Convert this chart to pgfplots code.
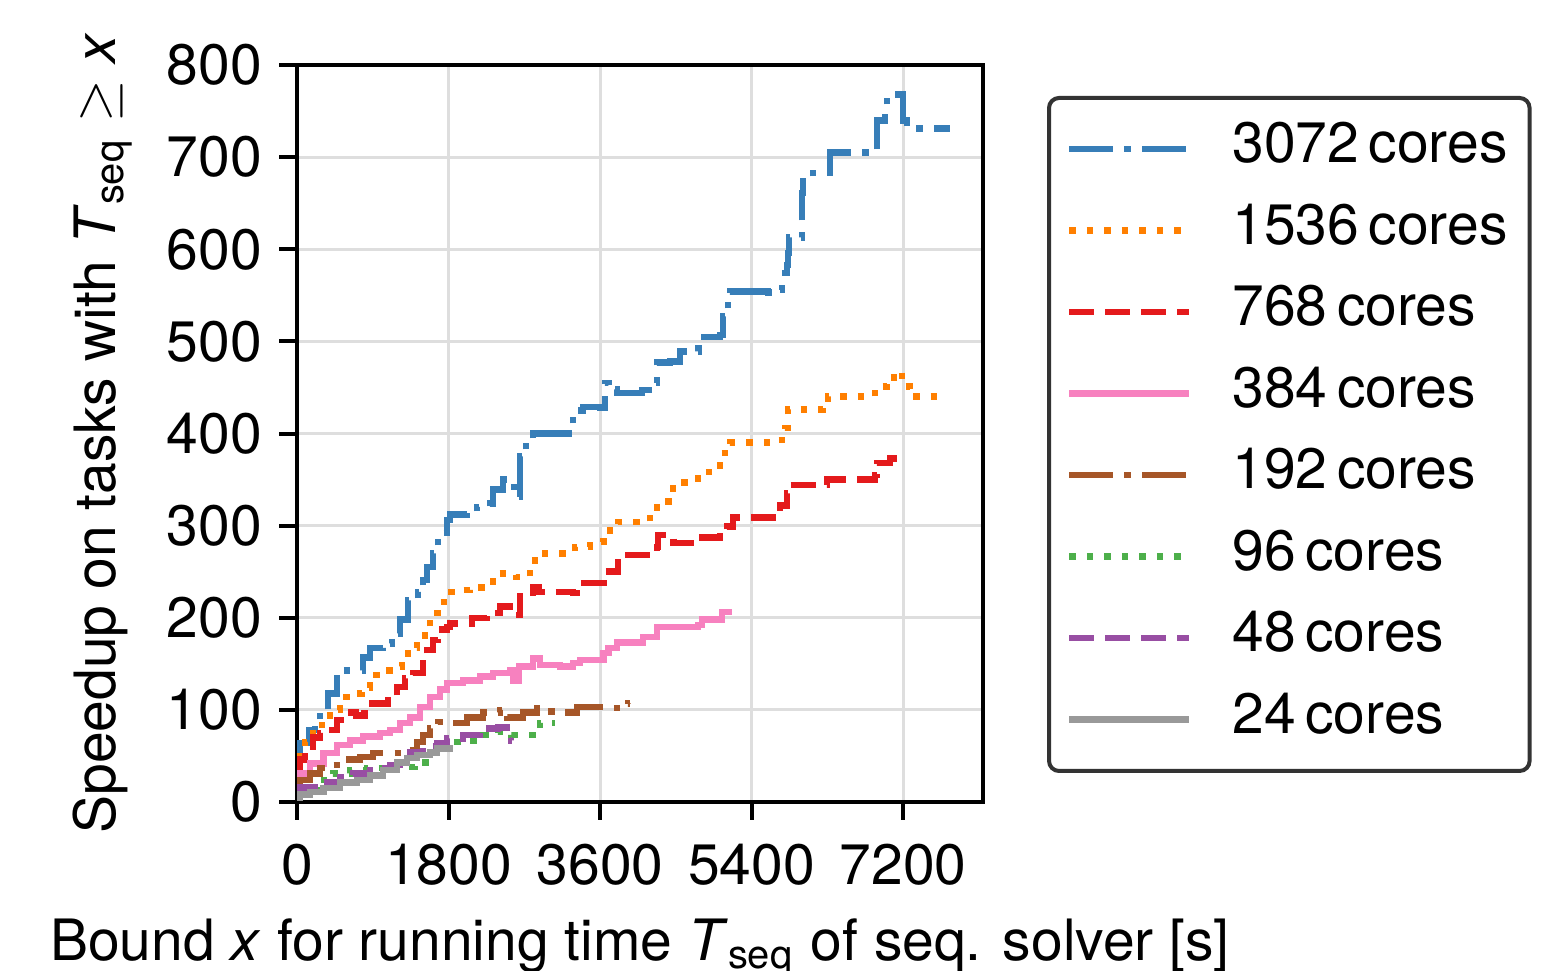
\documentclass[border=0pt]{standalone}
\usepackage{fontspec}
\setmainfont{TeX Gyre Heros}
\usepackage{pgfplots}
\pgfplotsset{compat=1.18}

\definecolor{cA}{HTML}{377EB8}
\definecolor{cB}{HTML}{FF7F00}
\definecolor{cC}{HTML}{E41A1C}
\definecolor{cD}{HTML}{F781BF}
\definecolor{cE}{HTML}{A65628}
\definecolor{cF}{HTML}{4DAF4A}
\definecolor{cG}{HTML}{984EA3}
\definecolor{cH}{HTML}{999999}

\tikzset{
  dd/.style={dash pattern=on 8.7pt off 2.3pt on 1.3pt off 2.3pt},
  dt/.style={dash pattern=on 1.3pt off 2.2pt},
  ds/.style={dash pattern=on 5pt off 2.2pt},
}

\begin{document}
\begin{tikzpicture}
\begin{axis}[
  at={(0,0)}, anchor=south west,
  scale only axis,
  width=137.2pt, height=147.4pt,
  xmin=0, xmax=8150, ymin=0, ymax=800,
  xtick={0,1800,3600,5400,7200},
  ytick={0,100,...,800},
  scaled x ticks=false,
  /pgf/number format/1000 sep={},
  /pgf/number format/assume math mode=true,
  tick label style={font=\fontsize{11.4}{13}\selectfont},
  xticklabel style={yshift=-1.3pt},
  label style={font=\fontsize{11.4}{13}\selectfont},
  xlabel style={yshift=0.2pt},
  xtick pos=bottom, ytick pos=left,
  tick align=outside,
  major tick length=3.5pt,
  every tick/.style={black, line width=0.8pt},
  axis line style={line width=0.8pt},
  grid=major,
  major grid style={color=black!13, line width=0.6pt},
  xlabel={Bound \textit{x} for running time \textit{T}\textsubscript{seq} of seq. solver [s]},
  ylabel={Speedup on tasks with \textit{T}\textsubscript{seq} $\geq$ \textit{x}},
  legend style={
    at={(1.0933,0.958)}, anchor=north west,
    draw=black!80, line width=0.8pt, rounded corners=2pt,
    font=\fontsize{11.4}{13}\selectfont,
    inner xsep=3.4pt, inner ysep=4pt,
    row sep=3.8pt,
    nodes={inner sep=1pt, text height=8pt, text depth=2.5pt},
    /tikz/every odd column/.append style={column sep=7pt},
  },
  legend cell align=left,
  legend image code/.code={\draw[#1] (0pt,0pt) -- (24pt,0pt);},
  const plot,
]
\addplot[cA, line width=1.3pt, dd] coordinates {
(0,55) (36,64) (150,78) (214,89) (273,100) (370,118) (475,140) (550,143) (713,143)
(784,157) (867,167) (1022,172) (1128,183) (1224,198) (1319,219) (1437,228) (1497,241)
(1544,255) (1616,270) (1675,292) (1782,306) (1818,312) (2020,314) (2138,320) (2293,324)
(2329,339) (2448,350) (2530,342) (2613,331) (2649,375) (2720,390) (2804,400) (3206,400)
(3280,425) (3400,429) (3600,428) (3660,455) (3700,448) (3800,444) (4100,447) (4230,455)
(4276,477) (4430,478) (4550,489) (4767,505) (5025,507) (5060,527) (5120,545) (5144,554)
(5596,553) (5738,556) (5760,574) (5821,583) (5833,596) (5845,613) (5976,613) (6000,661)
(6010,679) (6130,683) (6320,683) (6332,705) (6867,705) (6890,740) (6985,749) (7010,768)
(7190,768) (7200,740) (7247,731) (7760,731)
};
\addlegendentry{3072\,cores}
\addplot[cB, line width=1.3pt, dt] coordinates {
(0,50) (95,65) (190,78) (297,89) (392,100) (511,114) (630,118) (772,124) (867,138)
(1022,143) (1105,147) (1247,157) (1319,167) (1425,176) (1520,190) (1580,205) (1675,217)
(1794,228) (1900,230) (2055,233) (2198,239) (2329,248) (2530,248) (2600,244) (2768,257)
(2827,270) (3184,270) (3303,277) (3480,282) (3640,288) (3718,295) (3813,304) (4050,304)
(4194,314) (4277,326) (4455,328) (4467,347) (4692,347) (4764,358) (5002,358) (5025,379)
(5144,390) (5714,393) (5800,406) (5833,426) (6250,428) (6308,440) (6772,440) (6867,451)
(7010,461) (7140,467) (7190,451) (7280,440) (7720,440)
};
\addlegendentry{1536\,cores}
\addplot[cC, line width=1.3pt, ds] coordinates {
(0,35) (36,46) (95,60) (190,70) (273,75) (368,78) (475,89) (594,97) (700,94) (800,107)
(986,107) (1081,114) (1188,125) (1283,134) (1378,140) (1497,151) (1544,165) (1616,176)
(1675,187) (1782,190) (1818,194) (1996,194) (2079,200) (2257,205) (2412,212) (2554,212)
(2580,203) (2649,223) (2804,233) (2870,228) (3280,227) (3362,238) (3600,238) (3640,250)
(3800,250) (3813,268) (4110,268) (4277,277) (4290,290) (4455,290) (4470,281) (4645,281)
(4764,287) (5025,288) (5108,299) (5180,309) (5655,309) (5738,322) (5821,335) (5857,344)
(6178,344) (6296,350) (6690,350) (6867,355) (6890,368) (7045,373) (7170,373)
};
\addlegendentry{768\,cores}
\addplot[cD, line width=1.3pt] coordinates {
(0,25) (36,31) (154,42) (313,53) (475,62) (630,67) (784,71) (986,75) (1105,78) (1224,86)
(1343,92) (1461,103) (1580,114) (1699,122) (1782,129) (1972,132) (2174,136) (2329,140)
(2530,143) (2570,132) (2640,147) (2804,156) (2887,149) (3124,147) (3280,151) (3362,154)
(3640,162) (3700,167) (3800,173) (4110,179) (4277,190) (4764,192) (4811,198) (5025,198)
(5049,206) (5168,206)
};
\addlegendentry{384\,cores}
\addplot[cE, line width=1.3pt, dd] coordinates {
(0,20) (36,24) (154,31) (273,37) (392,40) (546,46) (748,49) (903,53) (1260,56) (1425,65)
(1497,73) (1580,80) (1675,87) (1853,86) (2020,92) (2210,97) (2412,100) (2500,92) (2685,97)
(2851,102) (2970,98) (3160,97) (3326,103) (3564,103) (3754,102) (3932,107) (3960,107)
};
\addlegendentry{192\,cores}
\addplot[cF, line width=1.3pt, dt] coordinates {
(0,12) (36,16) (238,24) (428,31) (630,35) (832,37) (1022,40) (1150,38) (1402,43) (1580,53)
(1663,64) (1818,65) (2020,67) (2210,73) (2388,76) (2550,73) (2804,80) (2887,86) (3060,86)
};
\addlegendentry{96\,cores}
\addplot[cG, line width=1.3pt, ds] coordinates {
(0,12) (36,16) (313,22) (511,27) (665,31) (867,35) (986,37) (1105,40) (1224,49) (1343,54)
(1497,60) (1663,64) (1782,69) (1972,73) (2174,80) (2388,81) (2540,67) (2560,67)
};
\addlegendentry{48\,cores}
\addplot[cH, line width=1.3pt] coordinates {
(0,5) (36,8) (154,11) (313,15) (511,21) (713,24) (867,29) (1022,35) (1188,43) (1307,48)
(1425,51) (1580,54) (1663,58) (1853,58)
};
\addlegendentry{24\,cores}
\end{axis}
\pgfresetboundingbox
\path (-59.4pt,-33.6pt) rectangle (252pt,160.4pt);
\end{tikzpicture}
\end{document}
